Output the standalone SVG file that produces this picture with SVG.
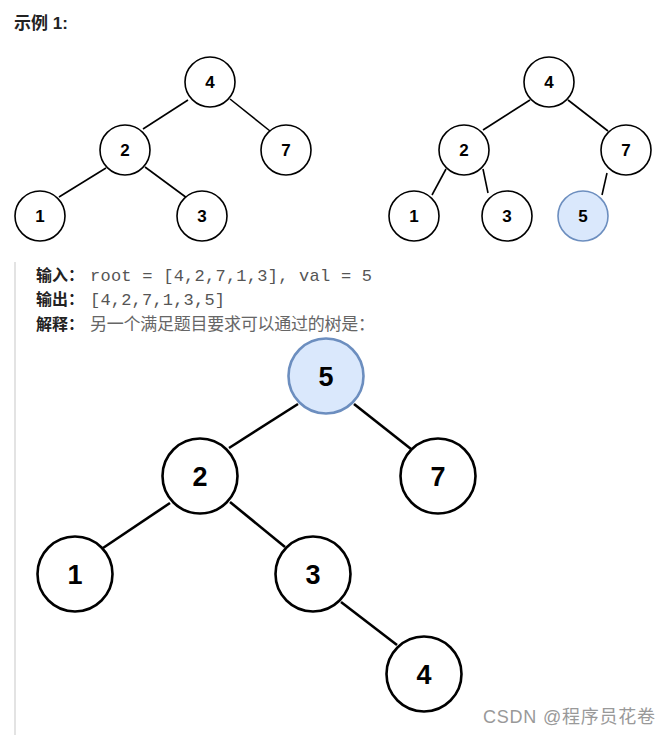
<svg xmlns="http://www.w3.org/2000/svg" width="671" height="735" viewBox="0 0 671 735">
<style>
.n{fill:#fff;stroke:#000;stroke-width:1.6}
.hl{fill:#dae8fc;stroke:#6c8ebf;stroke-width:1.6}
.nb{stroke-width:2.6}
.e{stroke:#000;stroke-width:1.6;fill:none}
.eb{stroke-width:2.6}
.t{font-family:"Liberation Sans",Arial,sans-serif;font-weight:bold;font-size:17px;fill:#000;text-anchor:middle}
.tb{font-size:27px}
.lbl{font-family:"Liberation Sans","Noto Sans CJK SC",sans-serif;font-weight:bold;font-size:16px;fill:#222}
.hd{font-size:17px}
.code{font-family:"Liberation Mono","DejaVu Sans Mono",monospace;font-size:17px;fill:#555}
.txt{font-family:"Liberation Sans","Noto Sans CJK SC",sans-serif;font-size:17px;fill:#666}
</style>
<rect width="671" height="735" fill="#fff"/>
<text x="14" y="29" class="lbl hd">示例 1:</text>
<line x1="15" y1="262" x2="15" y2="735" stroke="#e3e3e3" stroke-width="2"/>
<g id="connectors">
<line class="e" x1="188" y1="100" x2="143" y2="129"/>
<line class="e" x1="230" y1="99" x2="270" y2="131"/>
<line class="e" x1="106" y1="168" x2="59" y2="197"/>
<line class="e" x1="145" y1="167" x2="187" y2="198"/>
<line class="e" x1="530" y1="100" x2="483" y2="130"/>
<line class="e" x1="568" y1="100" x2="608" y2="131"/>
<line class="e" x1="446" y1="169" x2="432" y2="195"/>
<line class="e" x1="483" y1="169" x2="488" y2="193"/>
<line class="e" x1="607" y1="173" x2="602" y2="195"/>
<line class="e eb" x1="298" y1="404" x2="229" y2="448"/>
<line class="e eb" x1="354" y1="404" x2="411" y2="449"/>
<line class="e eb" x1="170" y1="503" x2="103" y2="548"/>
<line class="e eb" x1="230" y1="502" x2="285" y2="547"/>
<line class="e eb" x1="341" y1="602" x2="397" y2="645"/>
</g>
<g id="a4"><circle class="n" cx="210" cy="82" r="25"/><text class="t" x="210" y="88">4</text></g>
<g id="a2"><circle class="n" cx="125" cy="150" r="25"/><text class="t" x="125" y="156">2</text></g>
<g id="a7"><circle class="n" cx="286" cy="150" r="25"/><text class="t" x="286" y="156">7</text></g>
<g id="a1"><circle class="n" cx="40" cy="216" r="25"/><text class="t" x="40" y="222">1</text></g>
<g id="a3"><circle class="n" cx="202" cy="216" r="25"/><text class="t" x="202" y="222">3</text></g>
<g id="b4"><circle class="n" cx="549" cy="82" r="25"/><text class="t" x="549" y="88">4</text></g>
<g id="b2"><circle class="n" cx="464" cy="150" r="25"/><text class="t" x="464" y="156">2</text></g>
<g id="b7"><circle class="n" cx="626" cy="150" r="25"/><text class="t" x="626" y="156">7</text></g>
<g id="b1"><circle class="n" cx="414" cy="216" r="25"/><text class="t" x="414" y="222">1</text></g>
<g id="b3"><circle class="n" cx="507" cy="216" r="25"/><text class="t" x="507" y="222">3</text></g>
<g id="b5"><circle class="hl" cx="583" cy="216" r="25"/><text class="t" x="583" y="222">5</text></g>
<g id="c5"><circle class="hl nb" cx="326" cy="376" r="37.5"/><text class="t tb" x="326" y="386">5</text></g>
<g id="c2"><circle class="n nb" cx="200" cy="476" r="37.5"/><text class="t tb" x="200" y="486">2</text></g>
<g id="c7"><circle class="n nb" cx="438" cy="476" r="37.5"/><text class="t tb" x="438" y="486">7</text></g>
<g id="c1"><circle class="n nb" cx="75" cy="574" r="37.5"/><text class="t tb" x="75" y="584">1</text></g>
<g id="c3"><circle class="n nb" cx="313" cy="574" r="37.5"/><text class="t tb" x="313" y="584">3</text></g>
<g id="c4"><circle class="n nb" cx="424" cy="674" r="37.5"/><text class="t tb" x="424" y="684">4</text></g>
<text class="lbl" x="36" y="281">输入：</text>
<text class="code" x="90" y="281" textLength="282">root = [4,2,7,1,3], val = 5</text>
<text class="lbl" x="36" y="305">输出：</text>
<text class="code" x="90" y="305" textLength="135">[4,2,7,1,3,5]</text>
<text class="lbl" x="36" y="330">解释：</text>
<text class="txt" x="90" y="330" textLength="285">另一个满足题目要求可以通过的树是：</text>
<text x="483" y="723" font-family="Liberation Sans,'Noto Sans CJK SC',sans-serif" font-size="18" fill="#999" textLength="172">CSDN @程序员花卷</text>
</svg>
